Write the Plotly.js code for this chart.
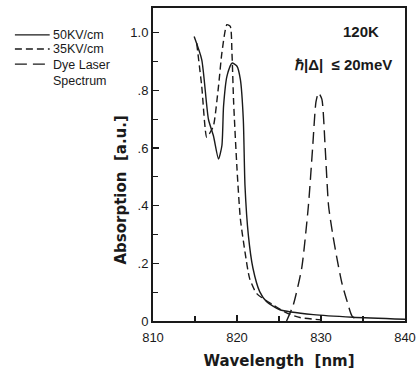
<!DOCTYPE html>
<html><head><meta charset="utf-8">
<script src="https://cdn.plot.ly/plotly-3.0.1.min.js"></script>
<style>html,body{margin:0;padding:0;background:#fff}#chart{width:420px;height:374px}</style>
</head><body><div id="chart"></div>
<script>
// 50 KV/cm (solid)
const wl50 = [814.9, 815.8, 816.6, 817.2, 817.8, 818.2, 818.4, 818.8, 819.4, 820.0, 820.4, 820.75, 820.95, 821.35, 821.9, 822.7, 823.5, 825.1, 829.1, 833.8, 840.0];
const abs50 = [0.987, 0.907, 0.70, 0.642, 0.562, 0.608, 0.746, 0.849, 0.895, 0.884, 0.838, 0.70, 0.47, 0.298, 0.183, 0.102, 0.068, 0.039, 0.022, 0.013, 0.006];
// 35 KV/cm (short dash)
const wl35 = [815.2, 815.8, 816.4, 816.8, 817.2, 817.8, 818.2, 818.8, 819.2, 819.4, 819.6, 820.0, 820.4, 820.95, 821.5, 822.35, 824.3, 825.9, 827.5, 830.0];
const abs35 = [0.964, 0.815, 0.637, 0.654, 0.677, 0.815, 0.93, 1.028, 1.022, 0.93, 0.758, 0.528, 0.355, 0.24, 0.148, 0.095, 0.056, 0.028, 0.012, 0.004];
// Dye laser spectrum (long dash)
const wlDye = [825.9, 826.7, 827.7, 828.5, 829.0, 829.4, 829.7, 830.1, 830.5, 830.9, 831.4, 831.9, 832.5, 833.1, 833.7, 834.5];
const absDye = [0.0, 0.056, 0.183, 0.40, 0.60, 0.76, 0.792, 0.77, 0.60, 0.40, 0.30, 0.217, 0.13, 0.069, 0.017, 0.0];

const seriesNames = ["50KV/cm", "35KV/cm", "Dye Laser<br>Spectrum"];
const yTickVals = [0, 0.2, 0.4, 0.6, 0.8, 1.0];
const yTickText = ["0", ".2", ".4", ".6", ".8", "1.0"];
const xTickVals = [810, 820, 830, 840];

const ink = "#1a1a1a";
const fam = "Liberation Sans, Arial, sans-serif";
const famT = "DejaVu Sans, sans-serif";
const dashes = ["solid", "7px,4px", "12px,6px"];
const traces = [
  {x: wl50, y: abs50, name: seriesNames[0], mode: "lines", line: {color: ink, width: 1.4, dash: dashes[0], shape: "spline", smoothing: 0.6}},
  {x: wl35, y: abs35, name: seriesNames[1], mode: "lines", line: {color: ink, width: 1.4, dash: dashes[1], shape: "spline", smoothing: 0.6}},
  {x: wlDye, y: absDye, name: seriesNames[2], mode: "lines", line: {color: ink, width: 1.4, dash: dashes[2], shape: "spline", smoothing: 0.6}}
];

// manual legend (paper coords)
const legY = [0.914, 0.869, 0.821];
const shapes = [];
const annotations = [];
for (let i = 0; i < 3; i++) {
  shapes.push({type: "line", xref: "paper", yref: "paper", x0: -0.548, x1: -0.41, y0: legY[i], y1: legY[i], line: {color: ink, width: 1.3, dash: dashes[i]}});
  annotations.push({xref: "paper", yref: "paper", x: -0.405, y: legY[i], xanchor: "left", yanchor: i === 2 ? "top" : "middle", yshift: i === 2 ? 8 : 0, align: "left", showarrow: false, text: seriesNames[i], font: {family: fam, size: 12.5, color: ink}});
}
annotations.push({xref: "paper", yref: "paper", x: 0.905, y: 0.925, xanchor: "right", yanchor: "middle", showarrow: false, text: "<b>120K</b>", font: {family: fam, size: 15, color: ink}});
annotations.push({xref: "paper", yref: "paper", x: 0.955, y: 0.818, xanchor: "right", yanchor: "middle", showarrow: false, text: "<b>ℏ|Δ|  ≤ 20meV</b>", font: {family: fam, size: 15, color: ink}});
// y-axis title placed as rotated annotation (centred lower than the plot centre, as in the source)
annotations.push({xref: "paper", yref: "paper", x: -0.127, y: 0.42, xanchor: "center", yanchor: "middle", textangle: -90, showarrow: false, text: "<b>Absorption  [a.u.]</b>", font: {family: famT, size: 15, color: ink}});

const layout = {
  width: 420, height: 374,
  margin: {l: 153, r: 15, t: 8, b: 53},
  paper_bgcolor: "#fff", plot_bgcolor: "#fff",
  showlegend: false,
  font: {family: fam, color: ink, size: 12},
  xaxis: {
    range: [810, 840], tickvals: xTickVals, ticks: "inside", ticklen: 6, tickwidth: 1.2, tickcolor: ink,
    minor: {dtick: 5, tick0: 810, ticks: "inside", ticklen: 5, tickcolor: ink, tickwidth: 1.2},
    showline: true, linecolor: ink, linewidth: 2, mirror: true, showgrid: false, zeroline: false,
    tickfont: {size: 13}, ticklabelstandoff: 3,
    title: {text: "<b>Wavelength  [nm]</b>", font: {family: famT, size: 15}, standoff: 12}
  },
  yaxis: {
    range: [0, 1.086], tickvals: yTickVals, ticktext: yTickText, ticks: "inside", ticklen: 6, tickwidth: 1.2, tickcolor: ink,
    minor: {dtick: 0.1, tick0: 0, ticks: "inside", ticklen: 5, tickcolor: ink, tickwidth: 1.2},
    showline: true, linecolor: ink, linewidth: 2, mirror: true, showgrid: false, zeroline: false,
    tickfont: {size: 13}
  },
  shapes: shapes,
  annotations: annotations
};
Plotly.newPlot("chart", traces, layout, {staticPlot: true, displayModeBar: false});
</script></body></html>
